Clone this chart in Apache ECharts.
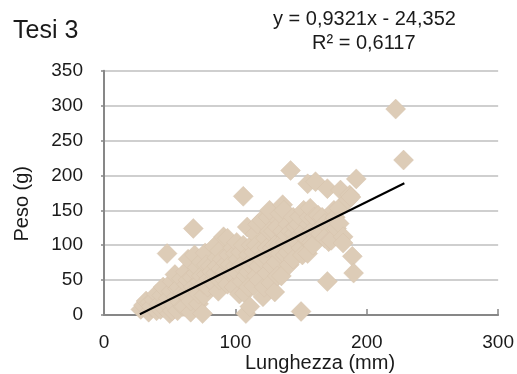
<!DOCTYPE html>
<html>
<head>
<meta charset="utf-8">
<script src="https://cdn.jsdelivr.net/npm/echarts@6/dist/echarts.min.js"></script>
<style>
html,body{margin:0;padding:0;background:#fff;}
#chart{width:517px;height:374px;}
</style>
</head>
<body>
<div id="chart"></div>
<script>
// ---- data ----
var lunghezza = [28,30,32,34,35,36,38,40,40,42,43,44,45,46,47,48,49,50,51,52,52,53,54,55,56,56,57,58,59,60,60,
  61,62,62,63,64,64,65,66,66,67,68,68,69,70,70,71,72,72,73,74,74,75,76,76,77,78,78,79,
  80,81,82,82,84,84,85,86,86,87,88,88,89,90,91,92,92,93,94,94,95,96,97,98,98,99,100,100,
  101,102,102,103,104,104,105,106,106,107,108,108,109,110,110,110,111,112,112,113,114,114,115,116,116,117,118,118,119,120,120,
  121,122,122,123,124,124,125,126,126,127,128,128,129,130,130,131,132,132,133,134,134,135,136,136,137,138,138,139,140,140,
  141,142,142,143,144,144,145,146,146,147,148,149,150,150,151,152,152,153,154,155,155,156,156,157,158,158,159,160,
  161,162,163,165,166,168,168,170,170,171,172,173,175,176,177,179,179,180,182,182,186,187,188,189,190,192,222,228];
var peso = [8,14,20,4,18,12,22,6,30,16,8,28,40,10,18,88,24,2,34,48,6,14,58,26,6,38,40,18,52,32,12,
  12,62,30,44,80,50,24,4,20,54,124,40,86,36,60,68,16,30,48,76,56,2,28,44,89,58,72,40,
  52,70,48,62,98,44,60,82,70,34,92,50,66,80,112,50,62,74,110,44,86,72,58,96,60,40,70,88,
  104,80,60,30,90,70,48,170,100,31,2,56,126,62,86,40,12,100,70,78,42,90,116,56,100,130,70,50,94,136,80,
  26,86,40,110,60,96,140,150,120,46,96,70,120,33,100,76,126,56,100,145,88,56,158,120,150,86,104,114,130,90,
  72,207,120,96,140,80,117,126,108,104,130,141,5,96,86,150,120,110,110,88,188,130,140,153,120,104,100,140,
  191,120,143,116,140,131,110,181,48,105,130,107,150,140,124,131,153,179,112,103,165,172,169,84,60,195,295,222];
var xTicks = [0, 100, 200, 300];
var yTicks = [0, 50, 100, 150, 200, 250, 300, 350];
var trendSlope = 0.9321, trendIntercept = -24.352;
var trendRange = [27.3, 228.6];
var titleText = 'Tesi 3';
var eqText = 'y = 0,9321x - 24,352';
var r2Text = 'R² = 0,6117';
var xName = 'Lunghezza (mm)';
var yName = 'Peso (g)';

var points = lunghezza.map(function(x, i){ return [x, peso[i]]; });
var trend = trendRange.map(function(x){ return [x, trendSlope * x + trendIntercept]; });

var chart = echarts.init(document.getElementById('chart'), null, {renderer:'canvas'});
chart.setOption({
  animation: false,
  backgroundColor: '#ffffff',
  textStyle: {fontFamily: 'Liberation Sans'},
  grid: {left: 104, right: 18, top: 70.7, bottom: 59, containLabel: false},
  xAxis: {
    type: 'value', min: xTicks[0], max: xTicks[xTicks.length-1], interval: 100,
    axisLine: {show: true, onZero: false, lineStyle: {color: '#878787', width: 2}},
    axisTick: {show: true, inside: true, length: 6, lineStyle: {color: '#878787', width: 1.5}},
    axisLabel: {margin: 18, fontSize: 19, color: '#1a1a1a', fontFamily: 'Liberation Sans'},
    splitLine: {show: false}
  },
  yAxis: {
    type: 'value', min: yTicks[0], max: yTicks[yTicks.length-1], interval: 50,
    axisLine: {show: true, onZero: false, lineStyle: {color: '#878787', width: 2}},
    axisTick: {show: true, length: 3, lineStyle: {color: '#878787', width: 1.5}},
    axisLabel: {margin: 21, fontSize: 19, color: '#1a1a1a', fontFamily: 'Liberation Sans'},
    splitLine: {show: true, lineStyle: {color: '#bfbfbf', width: 1.5}}
  },
  series: [
    {
      type: 'scatter', data: points, symbol: 'diamond', symbolSize: 20,
      itemStyle: {color: '#ddccb7', opacity: 1, borderColor: '#d3c0a8', borderWidth: 0.4},
      z: 2
    },
    {
      type: 'line', data: trend, symbol: 'none',
      lineStyle: {color: '#000000', width: 2}, z: 5
    }
  ],
  graphic: [
    {type: 'text', left: 13, top: 19, style: {text: titleText, font: '25px "Liberation Sans"', fill: '#1a1a1a'}},
    {type: 'text', left: 273, top: 9, style: {text: eqText, font: '20px "Liberation Sans"', fill: '#1a1a1a'}},
    {type: 'text', left: 312, top: 33, style: {text: r2Text, font: '20px "Liberation Sans"', fill: '#1a1a1a'}},
    {type: 'text', left: 245, top: 353, style: {text: xName, font: '20px "Liberation Sans"', fill: '#1a1a1a'}},
    {type: 'text', left: 12, top: 166, rotation: Math.PI/2, style: {text: yName, font: '20px "Liberation Sans"', fill: '#1a1a1a'}}
  ]
});
</script>
</body>
</html>
